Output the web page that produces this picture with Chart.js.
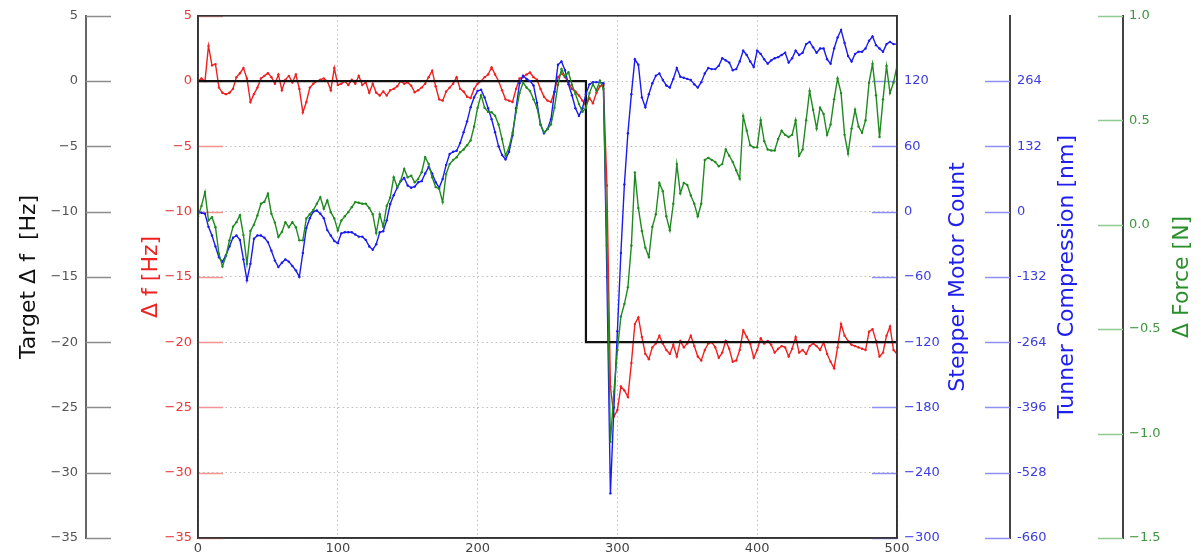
<!DOCTYPE html>
<html>
<head>
<meta charset="utf-8">
<script src="https://cdn.jsdelivr.net/npm/chart.js@4.4.1/dist/chart.umd.min.js"></script>
<style>
  html, body { margin: 0; padding: 0; background: #fff; overflow: hidden; }
  #wrap { width: 1201px; height: 556px; }
</style>
</head>
<body>
<div id="wrap"><canvas id="c" width="1201" height="556"></canvas></div>
<script>
// Samples are taken every 2.5 time units, from 0 to 500.
const timeStep = 2.5;

// Measured frequency offset Δf [Hz]
const deltaF = [
  0.0, 0.2, 0.0, 2.7, 1.2, 1.3, -0.5, -0.9, -1.0, -0.9,
  -0.6, 0.3, 0.6, 1.0, 0.2, -1.6, -1.0, -0.5, 0.2, 0.4,
  0.6, 0.3, -0.2, 0.5, -0.7, 0.1, 0.4, -0.1, 0.5, -0.6,
  -2.4, -1.6, -0.5, -0.2, 0.0, 0.1, 0.2, 0.0, -0.7, 1.0,
  -0.3, -0.2, 0.0, -0.3, 0.1, -0.2, 0.4, -0.3, -0.1, -0.9,
  -0.2, -0.9, -1.1, -0.8, -1.1, -0.7, -0.6, -0.4, 0.0, -0.2,
  -0.1, -0.35, -0.86, -0.7, -0.5, -0.2, 0.3, 0.8, -0.4, -1.4,
  -1.5, -0.8, -0.5, -0.2, 0.3, -0.6, -0.8, -1.2, -1.3, -0.6,
  -0.2, 0.0, 0.3, 0.5, 1.05, 0.5, 0.0, -0.7, -1.4, -1.5,
  -1.6, -0.6, 0.2, 0.3, 0.5, 0.66, 0.3, 0.1, -0.6, -1.2,
  -1.5, -1.6, -0.8, 0.3, 0.6, 0.3, -0.1, -0.6, -0.8, -1.1,
  -1.5, -1.9, -1.3, -1.7, -0.9, -0.4, -0.3,
  -8.0, -23.4, -25.7, -25.2, -23.4, -23.7, -24.2, -21.6, -18.6, -18.1,
  -19.6, -20.9, -21.3, -20.4, -20.1, -19.5, -20.1, -20.6, -20.9, -20.2,
  -21.1, -19.9, -20.4, -20.1, -19.5, -20.3, -21.1, -21.4, -20.6, -20.1,
  -20.0, -20.4, -21.2, -20.8, -19.9, -20.5, -21.5, -21.4, -20.6, -19.1,
  -19.6, -20.1, -21.2, -20.6, -19.7, -20.1, -19.9, -20.2, -20.8, -20.5,
  -20.3, -20.4, -21.1, -20.5, -19.6, -20.8, -20.6, -20.9, -20.3, -20.1,
  -20.3, -20.6, -20.0, -20.9, -21.5, -22.0, -20.4, -18.6, -19.5, -19.9,
  -20.2, -20.3, -20.4, -20.5, -20.6, -19.2, -19.0, -19.9, -21.1, -20.8,
  -19.5, -18.8, -20.6, -20.9
];

// Stepper motor position [counts]
const motorCount = [
  0, -1, -2, -14, -22, -32, -42, -46, -40, -32,
  -24, -22, -26, -44, -63, -48, -25, -22, -22, -24,
  -28, -36, -45, -51, -47, -44, -46, -50, -54, -60,
  -38, -15, -6, 0, 1, -2, -6, -17, -22, -27,
  -29, -20, -19, -19, -19, -21, -23, -23, -26, -32,
  -35, -30, -19, -18, -8, 7, 15, 22, 28, 31,
  24, 22, 23, 27, 28, 35, 41, 35, 27, 22,
  30, 43, 53, 55, 56, 63, 73, 83, 96, 105,
  111, 112, 105, 95, 85, 73, 60, 52, 48, 55,
  70, 95, 118, 125, 122, 120, 116, 100, 80, 72,
  76, 85, 110, 135, 138, 130, 117, 107, 95, 88,
  95, 108, 117, 119, 119, 119, 118,
  -60, -259, -180, -110, -38, 25, 72, 108, 140, 135,
  105, 96, 108, 118, 125, 127, 121, 116, 114, 122,
  132, 124, 123, 122, 121, 117, 114, 119, 127, 132,
  131, 131, 134, 141, 139, 137, 130, 131, 138, 148,
  144, 138, 133, 148, 145, 140, 136, 139, 141, 142,
  144, 146, 137, 141, 148, 144, 146, 154, 156, 151,
  146, 150, 150, 140, 136, 150, 160, 167, 155, 143,
  138, 145, 147, 147, 150, 157, 161, 153, 150, 147,
  154, 156, 154, 154
];

// Change in force [N]
const deltaForce = [
  0.04, 0.09, 0.156, 0.02, 0.036, -0.012, -0.14, -0.2, -0.15, -0.075,
  -0.01, 0.012, 0.045, -0.05, -0.187, -0.03, 0.0, 0.044, 0.1, 0.11,
  0.148, 0.052, 0.01, -0.059, -0.035, 0.012, -0.012, 0.012, -0.012, -0.075,
  -0.075, 0.03, 0.05, 0.07, 0.1, 0.132, 0.076, 0.116, 0.06, 0.03,
  -0.028, 0.02, 0.04, 0.06, 0.084, 0.108, 0.105, 0.1, 0.1, 0.08,
  0.05, -0.04, 0.05, -0.01, 0.09, 0.13, 0.227, 0.18, 0.21, 0.267,
  0.227, 0.235, 0.203, 0.219, 0.251, 0.323, 0.291, 0.227, 0.18, 0.172,
  0.108, 0.243, 0.29, 0.31, 0.323, 0.347, 0.36, 0.38, 0.403, 0.47,
  0.56, 0.62, 0.56, 0.54, 0.538, 0.522, 0.48, 0.41, 0.33, 0.37,
  0.44, 0.54, 0.63, 0.681, 0.657, 0.64, 0.6, 0.56, 0.48, 0.442,
  0.458, 0.48, 0.56, 0.67, 0.745, 0.71, 0.73, 0.67, 0.626, 0.578,
  0.54, 0.56, 0.63, 0.673, 0.642, 0.689, 0.65,
  -0.1, -1.04, -0.8, -0.6, -0.44, -0.38, -0.3, -0.1, 0.25, 0.08,
  -0.03, -0.11, -0.155, -0.01, 0.05, 0.2, 0.16, 0.04, -0.027, 0.1,
  0.29, 0.15, 0.2, 0.19, 0.14, 0.1, 0.04, 0.1, 0.31, 0.32,
  0.31, 0.3, 0.28, 0.29, 0.36, 0.33, 0.3, 0.26, 0.22, 0.52,
  0.45, 0.38, 0.37, 0.37, 0.5, 0.4, 0.36, 0.355, 0.355, 0.41,
  0.45, 0.43, 0.42, 0.43, 0.5, 0.33, 0.36, 0.5, 0.64, 0.55,
  0.46, 0.56, 0.53, 0.43, 0.48, 0.6, 0.7, 0.63, 0.43, 0.34,
  0.46, 0.55, 0.47, 0.44, 0.5, 0.68, 0.77, 0.62, 0.42, 0.6,
  0.76, 0.63, 0.68, 0.76
];

// Commanded target Δf: a single step from 0 Hz to -20 Hz
const targetX = [0, 277.5, 277.5, 500];
const targetHz = [0, 0, -20, -20];

// Axis ticks
const timeTicks = [0, 100, 200, 300, 400, 500];
const hzTicks = [5, 0, -5, -10, -15, -20, -25, -30, -35];
const motorTicks = [120, 60, 0, -60, -120, -180, -240, -300];
const tunnerTicks = [264, 132, 0, -132, -264, -396, -528, -660];
const forceTicks = [1.0, 0.5, 0.0, -0.5, -1.0, -1.5];

const MINUS = '\u2212';
const signed = (s, v) => (v < 0 ? MINUS + s.replace('-', '') : s);

const toPoints = (ys) => ys.map((y, i) => ({ x: i * timeStep, y }));
const targetPoints = targetX.map((x, i) => ({ x, y: targetHz[i] }));

const fixedTicks = (list) => (scale) => { scale.ticks = list.map(v => ({ value: v })); };
const fixedWidth = (w) => (scale) => { scale.width = w; };

Chart.defaults.font.family = "'DejaVu Sans', 'Liberation Sans', sans-serif";
Chart.defaults.font.size = 13;

// Short tick marks drawn on the inner side of each y axis line
const tickMarks = {
  id: 'tickMarks',
  beforeDatasetsDraw(chart) {
    const { ctx, chartArea, scales } = chart;
    const len = 25;
    const specs = [
      { id: 'yTarget', x: s => s.right, dir: 1, color: '#8c8c8c', w: 1.5 },
      { id: 'yDf', x: () => chartArea.left, dir: 1, color: '#f39393', w: 1.5 },
      { id: 'yMotor', x: () => chartArea.right, dir: -1, color: '#8f8ff2', w: 1.5 },
      { id: 'yTunner', x: s => s.left, dir: -1, color: '#8f8ff2', w: 1.5 },
      { id: 'yForce', x: s => s.left, dir: -1, color: '#93c893', w: 1.5 }
    ];
    ctx.save();
    specs.forEach(sp => {
      const s = scales[sp.id];
      const x0 = sp.x(s);
      ctx.strokeStyle = sp.color;
      ctx.lineWidth = sp.w;
      s.ticks.forEach(t => {
        const y = Math.round(s.getPixelForValue(t.value)) + 0.5;
        ctx.beginPath();
        ctx.moveTo(x0, y);
        ctx.lineTo(x0 + sp.dir * len, y);
        ctx.stroke();
      });
    });
    ctx.restore();
  }
};

// Dark frame around the plotting area
const plotFrame = {
  id: 'plotFrame',
  afterDatasetsDraw(chart) {
    const { ctx, chartArea: a } = chart;
    ctx.save();
    ctx.strokeStyle = '#333';
    ctx.lineWidth = 1.6;
    ctx.strokeRect(a.left, a.top, a.right - a.left, a.bottom - a.top);
    ctx.restore();
  }
};

// Titles of the right-hand axes, reading bottom to top
const rightTitles = {
  id: 'rightTitles',
  afterDraw(chart) {
    const { ctx, chartArea: a, scales } = chart;
    const midY = (a.top + a.bottom) / 2;
    const items = [
      { text: 'Stepper Motor Count', x: scales.yMotor.left + 61, color: '#2020ee' },
      { text: 'Tunner Compression [nm]', x: scales.yTunner.left + 57, color: '#2020ee' },
      { text: 'Δ Force [N]', x: scales.yForce.left + 59, color: '#2a8f2a' }
    ];
    ctx.save();
    ctx.font = "22px 'DejaVu Sans', sans-serif";
    ctx.textAlign = 'center';
    ctx.textBaseline = 'middle';
    items.forEach(it => {
      ctx.save();
      ctx.translate(it.x, midY);
      ctx.rotate(-Math.PI / 2);
      ctx.fillStyle = it.color;
      ctx.fillText(it.text, 0, 0);
      ctx.restore();
    });
    ctx.restore();
  }
};

const lineStyle = (color) => ({
  borderColor: color,
  backgroundColor: color,
  borderWidth: 1.4,
  pointRadius: 1.2,
  pointBorderWidth: 0,
  pointBackgroundColor: color,
  tension: 0,
  fill: false
});

new Chart(document.getElementById('c'), {
  type: 'line',
  data: {
    datasets: [
      { label: 'Δ Force', data: toPoints(deltaForce), yAxisID: 'yForce', ...lineStyle('#1f8a1f') },
      { label: 'Stepper Motor Count', data: toPoints(motorCount), yAxisID: 'yMotor', ...lineStyle('#1a1af2') },
      { label: 'Target Δ f', data: targetPoints, yAxisID: 'yTarget',
        borderColor: '#111', borderWidth: 2.2, pointRadius: 0, tension: 0, fill: false },
      { label: 'Δ f', data: toPoints(deltaF), yAxisID: 'yDf', ...lineStyle('#f02020') }
    ]
  },
  options: {
    responsive: false,
    animation: false,
    events: [],
    layout: { padding: { top: 15, left: 0, right: 0, bottom: 0 } },
    plugins: { legend: { display: false }, tooltip: { enabled: false } },
    scales: {
      x: {
        type: 'linear', min: 0, max: 500,
        afterBuildTicks: fixedTicks(timeTicks),
        afterFit: (s) => { s.height = 18; },
        ticks: { color: '#444', padding: 3, maxRotation: 0, autoSkip: false,
                 callback: v => String(v) },
        grid: { color: '#bdbdbd', lineWidth: 1, drawTicks: false },
        border: { color: '#333', width: 1.6, dash: [1.5, 3] }
      },
      yTarget: {
        position: 'left', weight: 2, min: -35, max: 5,
        afterBuildTicks: fixedTicks(hzTicks),
        afterFit: fixedWidth(86),
        ticks: { color: '#555', padding: 8, callback: v => signed(String(v), v) },
        grid: { display: false, drawTicks: false },
        border: { color: '#666', width: 2 },
        title: { display: true, text: 'Target Δ f  [Hz]', color: '#111',
                 font: { size: 22 }, padding: { top: 16, bottom: 0 } }
      },
      yDf: {
        position: 'left', weight: 1, min: -35, max: 5,
        afterBuildTicks: fixedTicks(hzTicks),
        afterFit: fixedWidth(112),
        ticks: { color: '#e83a3a', padding: 6, callback: v => signed(String(v), v) },
        grid: { color: '#bdbdbd', lineWidth: 1, drawTicks: false },
        border: { color: '#333', width: 1.6, dash: [1.5, 3] },
        title: { display: true, text: 'Δ f [Hz]', color: '#ee2222',
                 font: { size: 22 }, padding: { top: 52, bottom: 0 } }
      },
      yMotor: {
        position: 'right', weight: 1, min: -300, max: 180,
        afterBuildTicks: fixedTicks(motorTicks),
        afterFit: fixedWidth(113),
        ticks: { color: '#3c3ce0', padding: 7, callback: v => signed(String(v), v) },
        grid: { display: false, drawTicks: false },
        border: { color: '#333', width: 1.6 }
      },
      yTunner: {
        position: 'right', weight: 2, min: -660, max: 396,
        afterBuildTicks: fixedTicks(tunnerTicks),
        afterFit: fixedWidth(113),
        ticks: { color: '#3c3ce0', padding: 7, callback: v => String(v) },
        grid: { display: false, drawTicks: false },
        border: { color: '#444', width: 2 }
      },
      yForce: {
        position: 'right', weight: 3, min: -1.5, max: 1.0,
        afterBuildTicks: fixedTicks(forceTicks),
        afterFit: fixedWidth(78),
        ticks: { color: '#3f963f', padding: 6, callback: v => signed(v.toFixed(1), v) },
        grid: { display: false, drawTicks: false },
        border: { color: '#444', width: 2 }
      }
    }
  },
  plugins: [tickMarks, plotFrame, rightTitles]
});
</script>
</body>
</html>
